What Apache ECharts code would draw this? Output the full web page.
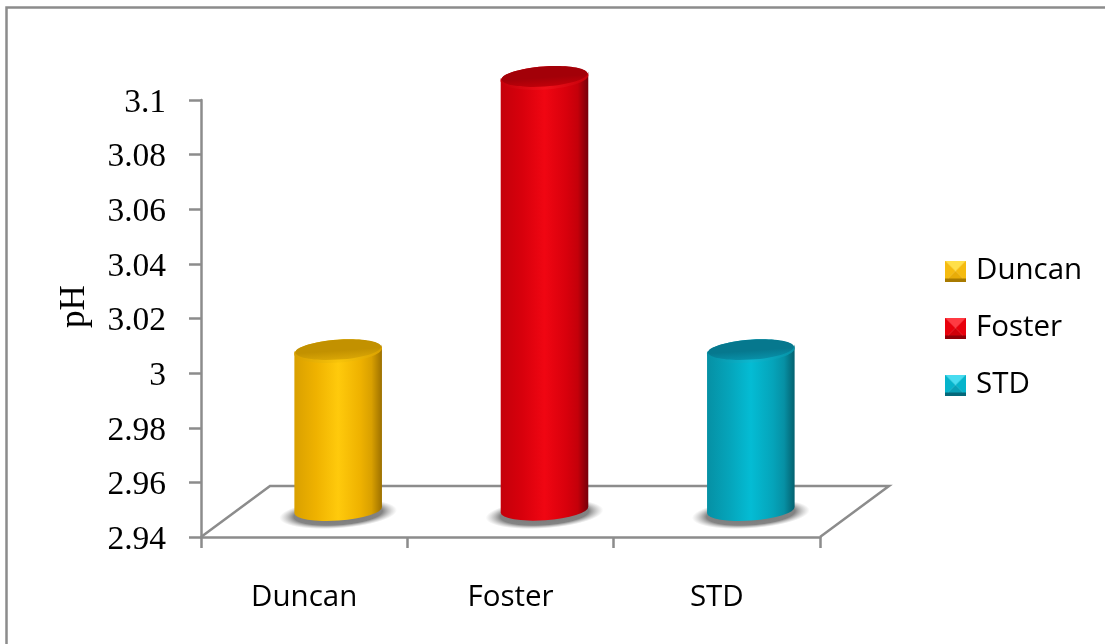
<!DOCTYPE html>
<html>
<head>
<meta charset="utf-8">
<style>html,body{margin:0;padding:0;background:#fff}#chart{width:1105px;height:644px}</style>
<script src="https://cdn.jsdelivr.net/npm/echarts@6/dist/echarts.min.js"></script>
</head>
<body>
<div id="chart"></div>
<script>
const categories = ['Duncan', 'Foster', 'STD'];
const phValues = [3.0, 3.1, 3.0];
const valueTicks = { min: 2.94, max: 3.1, interval: 0.02 };
const palette = [
  { edge: '#d9a000', dark: '#9c7000', mid: '#efb200', light: '#ffca0c', back: '#c29100', front: '#d9a606', rim: '#f8c40a' },
  { edge: '#c4000a', dark: '#75000a', mid: '#d8000c', light: '#f00612', back: '#a30008', front: '#c00009', rim: '#f0101a' },
  { edge: '#0690a4', dark: '#04606e', mid: '#05a4ba', light: '#04bcd4', back: '#06788e', front: '#0890a8', rim: '#0cb8d0' }
];
const bevels = [
  { top: '#ffe04a', side: '#f5bb10', bottom: '#a87a00', center: '#e8ac08' },
  { top: '#ff3a42', side: '#e8000c', bottom: '#8e0008', center: '#d0000a' },
  { top: '#48dcf0', side: '#06b4cb', bottom: '#05687a', center: '#0aa0b6' }
];

const chart = echarts.init(document.getElementById('chart'));

// Pixel depth of the floor and cylinder proportions
const AXIS_GREY = '#8c8c8c';
const DEPTH_X = 69, DEPTH_Y = 51;
const CYL_DX = 34, CYL_DY = 22;
const RX = 44, RY = 11.5, TILT = 4 * Math.PI / 180;

function bevelIcon(c) {
  const s = 42, k = 6, cv = document.createElement('canvas');
  cv.width = cv.height = s;
  const g = cv.getContext('2d');
  const tri = (pts, col) => {
    g.fillStyle = col; g.beginPath();
    pts.forEach((p, i) => i ? g.lineTo(p[0], p[1]) : g.moveTo(p[0], p[1]));
    g.closePath(); g.fill();
  };
  const m = s / 2;
  tri([[0, 0], [s, 0], [m, m]], c.top);
  tri([[0, 0], [0, s], [m, m]], c.side);
  tri([[s, 0], [s, s], [m, m]], c.side);
  tri([[0, s], [s, s], [m, m]], c.center);
  g.fillStyle = c.bottom; g.fillRect(0, s - k, s, k);
  return 'image://' + cv.toDataURL();
}

function sideGradient(c) {
  return new echarts.graphic.LinearGradient(0, 0, 1, 0, [
    { offset: 0, color: c.edge }, { offset: 0.25, color: c.mid },
    { offset: 0.5, color: c.light }, { offset: 0.75, color: c.mid },
    { offset: 0.88, color: c.edge }, { offset: 1, color: c.dark }
  ]);
}

function renderFloor(params, api) {
  const o = api.coord([categories[0], valueTicks.min]);
  const s = api.size([1, 0]);
  const left = o[0] - s[0] / 2, right = left + s[0] * categories.length, y = o[1];
  const pts = [[left, y], [left + DEPTH_X, y - DEPTH_Y], [right + DEPTH_X, y - DEPTH_Y], [right, y]];
  return {
    type: 'group', silent: true, children: [
      { type: 'polyline', shape: { points: pts }, style: { stroke: AXIS_GREY, lineWidth: 2.5, fill: null } }
    ]
  };
}

function renderCylinder(params, api) {
  const idx = api.value(0);
  const c = palette[params.seriesIndex - 1];
  const top = api.coord([idx, api.value(1)]);
  const base = api.coord([idx, valueTicks.min]);
  const cx = base[0] + CYL_DX, tc = top[1] - CYL_DY, bc = base[1] - CYL_DY - 1;
  const ux = RX * Math.cos(TILT), uy = RX * Math.sin(TILT);
  const deg = TILT * 180 / Math.PI;
  const body = `M ${cx - ux} ${tc + uy} L ${cx - ux} ${bc + uy} A ${RX} ${RY - 1} ${-deg} 0 0 ${cx + ux} ${bc - uy} L ${cx + ux} ${tc - uy} A ${RX} ${RY} ${-deg} 0 1 ${cx - ux} ${tc + uy} Z`;
  const ell = (x, y, rx, ry, style) => ({
    type: 'ellipse', x, y, rotation: TILT,
    shape: { cx: 0, cy: 0, rx, ry }, style
  });
  const shadowFill = new echarts.graphic.RadialGradient(0.5, 0.5, 0.5, [
    { offset: 0, color: 'rgba(100,100,100,0.9)' },
    { offset: 0.75, color: 'rgba(110,110,110,0.85)' },
    { offset: 1, color: 'rgba(160,160,160,0)' }
  ]);
  const topFill = new echarts.graphic.LinearGradient(0, 0, 0, 1, [
    { offset: 0, color: c.back }, { offset: 0.55, color: c.back }, { offset: 1, color: c.front }
  ]);
  const rimFill = new echarts.graphic.LinearGradient(0, 0, 1, 0, [
    { offset: 0, color: c.edge }, { offset: 0.5, color: c.rim }, { offset: 1, color: c.edge }
  ]);
  return {
    type: 'group', children: [
      { type: 'circle', x: cx, y: bc, rotation: TILT, scaleX: 59, scaleY: 14.5, shape: { cx: 0, cy: 0, r: 1 }, style: { fill: shadowFill } },
      { type: 'path', shape: { pathData: body, x: cx - ux, y: tc - uy - RY, width: ux * 2, height: bc - tc + 2 * RY + 2 * uy }, style: { fill: sideGradient(c) } },
      ell(cx, tc, RX, RY, { fill: rimFill }),
      ell(cx, tc - 1.5, RX - 1, RY - 1.5, { fill: topFill })
    ]
  };
}

const cylinderSeries = categories.map((name, i) => ({
  type: 'custom', name, z: 3,
  itemStyle: { color: palette[i].light },
  encode: { x: 0, y: 1 },
  data: [[i, phValues[i]]],
  renderItem: renderCylinder
}));

chart.setOption({
  animation: false,
  backgroundColor: '#fff',
  graphic: [{
    type: 'rect', z: -1, silent: true,
    shape: { x: 6.5, y: 7.5, width: 1120, height: 660 },
    style: { fill: 'none', stroke: AXIS_GREY, lineWidth: 2.5 }
  }],
  grid: { left: 201, top: 100, width: 619, height: 437, containLabel: false },
  legend: {
    orient: 'vertical', left: 940, top: 251, itemGap: 27,
    itemWidth: 21, itemHeight: 21,
    textStyle: { fontFamily: 'Open Sans', fontSize: 29.5, lineHeight: 21, color: '#000', padding: [0, 0, 0, 5] },
    data: categories.map((name, i) => ({ name, icon: bevelIcon(bevels[i]) }))
  },
  xAxis: {
    type: 'category', data: categories,
    axisLine: { show: true, lineStyle: { color: AXIS_GREY, width: 2.5 } },
    axisTick: { show: true, alignWithLabel: false, length: 11, lineStyle: { color: AXIS_GREY, width: 2.5 } },
    axisLabel: { fontFamily: 'Open Sans', fontSize: 29.5, color: '#000', margin: 46 },
    splitLine: { show: false }
  },
  yAxis: {
    type: 'value', min: valueTicks.min, max: valueTicks.max, interval: valueTicks.interval,
    name: 'pH', nameLocation: 'middle', nameGap: 109,
    nameTextStyle: { fontFamily: 'Liberation Serif', fontSize: 35, color: '#000', padding: [0, 0, 0, 24] },
    axisLine: { show: true, lineStyle: { color: AXIS_GREY, width: 2.5 } },
    axisTick: { show: true, length: 12, lineStyle: { color: AXIS_GREY, width: 2.5 } },
    axisLabel: {
      margin: 35,
      formatter: v => '{v|' + (+v.toFixed(2)) + '}',
      rich: { v: { fontFamily: 'Liberation Serif', fontSize: 33.5, color: '#000', padding: [6, 0, 0, 0] } }
    },
    splitLine: { show: false }
  },
  series: [{
    type: 'custom', name: 'floor', z: 1, silent: true,
    encode: { x: 0, y: 1 },
    data: [[0, valueTicks.min]],
    renderItem: renderFloor
  }].concat(cylinderSeries)
});
</script>
</body>
</html>
